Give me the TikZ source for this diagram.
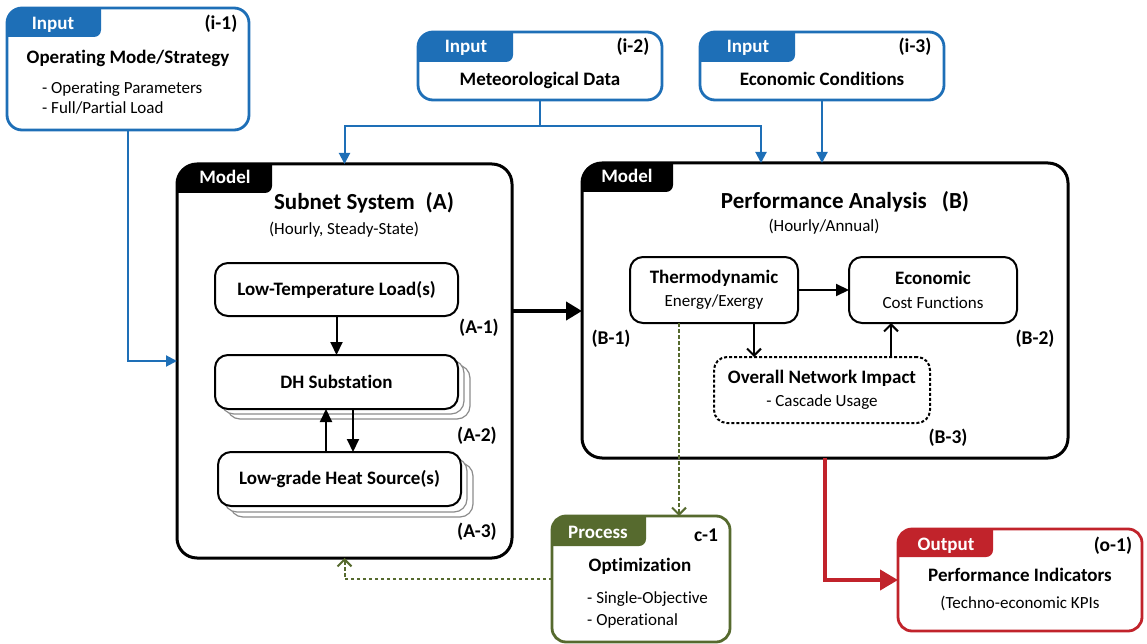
\documentclass[tikz,border=0pt]{standalone}
\usepackage{fontspec}
\setmainfont{Carlito}[Ligatures=NoCommon]
\usetikzlibrary{arrows.meta}
\definecolor{inblue}{HTML}{1E6FB7}
\definecolor{outred}{HTML}{C1232B}
\definecolor{procgreen}{HTML}{566A2E}
\newcommand{\mytab}[6]{\fill[#5] (#1,-#4) -- (#1,-#2-#6) arc[start angle=180,end angle=90,radius=#6] -- (#3,-#2) -- (#3,-#4+7) arc[start angle=0,end angle=-90,radius=7] -- cycle;}
\newcommand{\myBt}{\fontsize{19}{23.5}\selectfont\bfseries}
\newcommand{\myRt}{\fontsize{17}{23.5}\selectfont\mdseries}
\tikzset{
 inbox/.style={draw=inblue, line width=2.8pt, rounded corners=15pt, fill=white, inner sep=0pt, outer sep=0pt, anchor=north west},
 modelbox/.style={draw=black, line width=3pt, rounded corners=20pt, fill=white, inner sep=0pt, outer sep=0pt, anchor=north west},
 procbox/.style={draw=procgreen, line width=2.8pt, rounded corners=14pt, fill=white, inner sep=0pt, outer sep=0pt, anchor=north west},
 outbox/.style={draw=outred, line width=2.8pt, rounded corners=14pt, fill=white, inner sep=0pt, outer sep=0pt, anchor=north west},
 subbox/.style={draw=black, line width=2pt, rounded corners=13pt, fill=white, inner sep=0pt, outer sep=0pt, anchor=north west, align=center, font=\myBt},
 netbox/.style={subbox, dash pattern=on 3pt off 2pt},
 copybox/.style={draw=black!45, line width=1.2pt, rounded corners=13pt, fill=white},
 taglbl/.style={text=white, font=\fontsize{19}{19}\selectfont\bfseries, anchor=base, inner sep=0pt},
 idlbl/.style={font=\fontsize{19.5}{19.5}\selectfont\bfseries, anchor=base, inner sep=0pt},
 ttl/.style={font=\fontsize{19}{19}\selectfont\bfseries, anchor=base, inner sep=0pt},
 bigttl/.style={font=\fontsize{23}{23}\selectfont\bfseries, anchor=base, inner sep=0pt},
 reg/.style={font=\fontsize{17}{17}\selectfont, anchor=base, inner sep=0pt},
 regl/.style={reg, anchor=base west},
 bluecon/.style={draw=inblue, line width=2pt},
 bluearr/.style={bluecon, -{Triangle[width=11pt,length=11pt]}},
 blkarr/.style={draw=black, line width=2pt, -{Triangle[width=12pt,length=13pt]}},
 openarr/.style={draw=black, line width=2pt, -{Straight Barb[width=14pt,length=7pt]}},
 bigarr/.style={draw=black, line width=4pt, -{Triangle[width=18pt,length=16pt]}},
 redarr/.style={draw=outred, line width=4pt, -{Triangle[width=20pt,length=18pt]}},
 grnarr/.style={draw=procgreen, line width=2pt, dash pattern=on 3.5pt off 2.5pt, -{Straight Barb[width=14pt,length=7pt]}},
}
\begin{document}
\begin{tikzpicture}[x=1pt,y=1pt]
\useasboundingbox (0,0) rectangle (1147,-644);
% ---------- boxes ----------
\node[inbox, minimum width=242pt, minimum height=122pt] (i1) at (7,-8) {};
\node[inbox, minimum width=244pt, minimum height=68pt] (i2) at (418,-32) {};
\node[inbox, minimum width=244pt, minimum height=68pt] (i3) at (700,-32) {};
\node[modelbox, minimum width=335pt, minimum height=394pt] (A) at (177,-164) {};
\node[modelbox, minimum width=486pt, minimum height=295pt] (B) at (582,-163) {};
\node[procbox, minimum width=178pt, minimum height=126pt] (pr) at (552,-516) {};
\node[outbox, minimum width=244pt, minimum height=102pt] (out) at (898,-529) {};
% ---------- tabs ----------
\mytab{7}{8}{101}{37}{inblue}{15}
\mytab{418}{32}{513}{62}{inblue}{15}
\mytab{700}{32}{795}{62}{inblue}{15}
\mytab{177}{164}{272}{193}{black}{20}
\mytab{582}{163}{673}{192}{black}{20}
\mytab{552}{516}{646}{546}{procgreen}{14}
\mytab{898}{529}{993}{557}{outred}{14}
% ---------- inner boxes of A ----------
\node[subbox, minimum width=243pt, minimum height=53pt] (load) at (215,-263) {Low-Temperature Load(s)};
\draw[copybox] (227,-365) rectangle (470,-419);
\draw[copybox] (221,-360) rectangle (464,-414);
\node[subbox, minimum width=243pt, minimum height=54pt] (dh) at (215,-355) {DH Substation};
\draw[copybox] (230,-463) rectangle (473,-517);
\draw[copybox] (224,-458) rectangle (467,-512);
\node[subbox, minimum width=243pt, minimum height=54pt] (src) at (218,-452) {Low-grade Heat Source(s)};
% ---------- inner boxes of B ----------
\node[subbox, minimum width=168pt, minimum height=66pt] (th) at (630,-257) {\myBt Thermodynamic\\\myRt Energy/Exergy};
\node[subbox, minimum width=168pt, minimum height=66pt] (ec) at (849,-257) {\myBt Economic\\\myRt Cost Functions};
\node[netbox, minimum width=216pt, minimum height=66pt] (net) at (714,-357) {\myBt Overall Network Impact\\\myRt - Cascade Usage};
% ---------- labels ----------
\node[taglbl] (i1tag) at (53,-30) {Input};
\node[idlbl] (i1id) at (221,-30) {(i-1)};
\node[ttl] (i1t) at (128,-64) {Operating Mode/Strategy};
\node[regl] (i1a) at (42,-93.5) {- Operating Parameters};
\node[regl] (i1b) at (42,-113.5) {- Full/Partial Load};
\node[taglbl] (i2tag) at (466,-53) {Input};
\node[idlbl] (i2id) at (633,-53) {(i-2)};
\node[ttl] (i2t) at (540,-86) {Meteorological Data};
\node[taglbl] (i3tag) at (748,-53) {Input};
\node[idlbl] (i3id) at (915,-53) {(i-3)};
\node[ttl] (i3t) at (822,-86) {Economic Conditions};
\node[taglbl] (Atag) at (225,-184) {Model};
\node[bigttl] (At) at (364,-210) {Subnet System\hspace{11pt}(A)};
\node[reg] (As) at (344,-234.5) {(Hourly, Steady-State)};
\node[idlbl] (A1) at (479,-333) {(A-1)};
\node[idlbl] (A2) at (477,-441) {(A-2)};
\node[idlbl] (A3) at (477,-537) {(A-3)};
\node[taglbl] (Btag) at (627,-183) {Model};
\node[bigttl] (Bt) at (845,-209) {Performance Analysis\hspace{15pt}(B)};
\node[reg] (Bs) at (824,-231.5) {(Hourly/Annual)};
\node[idlbl] (B1) at (611,-344) {(B-1)};
\node[idlbl] (B2) at (1035,-344) {(B-2)};
\node[idlbl] (B3) at (948,-443) {(B-3)};
\node[taglbl] (prtag) at (598,-538) {Process};
\node[idlbl] (prid) at (706,-541) {c-1};
\node[ttl] (prt) at (640,-571) {Optimization};
\node[regl] (pra) at (587,-603.5) {- Single-Objective};
\node[regl] (prb) at (587,-625.5) {- Operational};
\node[taglbl] (outtag) at (946,-550) {Output};
\node[idlbl] (outid) at (1113,-551) {(o-1)};
\node[ttl] (outt) at (1020,-581) {Performance Indicators};
\node[reg] (outs) at (1020,-608.5) {(Techno-economic KPIs};
% ---------- connectors ----------
\coordinate (j2) at (540,-126);
\coordinate (b1in) at (761,-163);
\coordinate (abmid) at (545,-311);
\draw[bluearr] (i1.south) |- (A.west);
\draw[bluecon] (i2.south) -- (j2);
\draw[bluearr] (j2) -| (A.north);
\draw[bluearr] (j2) -| (b1in);
\draw[bluearr] (i3.south) -- (i3.south |- B.north);
\draw[bigarr] (A.east |- abmid) -- (B.west |- abmid);
\draw[redarr] (B.south) |- (out.west);
\draw[blkarr] (load.south) -- (dh.north);
\draw[blkarr] ([xshift=16.5pt]dh.south) -- ([xshift=16.5pt]dh.south |- src.north);
\draw[blkarr] ([xshift=-10.5pt]dh.south |- src.north) -- ([xshift=-10.5pt]dh.south);
\draw[blkarr] (th.east) -- (ec.west);
\draw[openarr] ([xshift=40pt]th.south) -- ([xshift=40pt]th.south |- net.north);
\draw[openarr] ([xshift=-42pt]ec.south |- net.north) -- ([xshift=-42pt]ec.south);
\draw[grnarr] ([xshift=-35pt]th.south) -- ([xshift=-35pt]th.south |- pr.north);
\draw[grnarr] (pr.west) -| (A.south);
\end{tikzpicture}
\end{document}
